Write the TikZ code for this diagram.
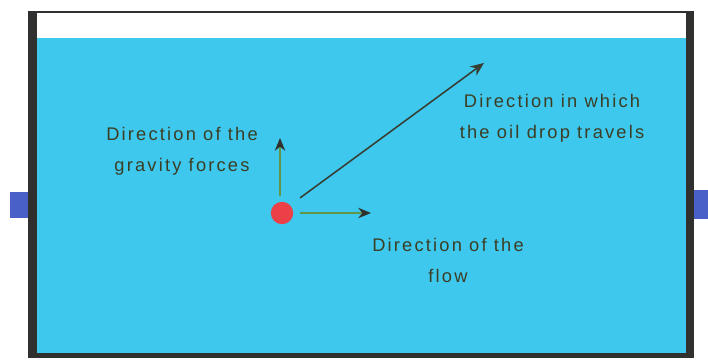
\documentclass[tikz,border=0pt]{standalone}
\usepackage{fontspec}
\setmainfont{Liberation Sans}
\newfontfamily\lblfont[LetterSpace=12]{Liberation Sans}
\usetikzlibrary{positioning,arrows.meta}
\definecolor{water}{RGB}{62,200,238}
\definecolor{wall}{RGB}{48,48,46}
\definecolor{port}{RGB}{72,96,200}
\definecolor{drop}{RGB}{236,64,72}
\definecolor{shaft}{RGB}{96,150,70}
\definecolor{txt}{RGB}{60,62,36}
\tikzset{
  lbl/.style={font=\lblfont\fontsize{13}{22}\selectfont,text=txt,align=center,inner sep=0pt},
  ar/.style={-{Stealth[length=3.2mm,width=2.6mm,color=wall]},line width=1.1pt,shaft},
  ard/.style={-{Stealth[length=3.4mm,width=2.8mm]},line width=1.1pt,wall!85!shaft},
  dropdot/.style={circle,fill=drop,minimum size=5.6mm,inner sep=0pt},
}

\begin{document}
\begin{tikzpicture}[x=0.025cm,y=-0.025cm]
\useasboundingbox (0,0) rectangle (708,360);

% tank
\fill[white] (28,11) rectangle (694,358);
\fill[water] (36,38) rectangle (688,353);
\fill[wall] (28,11) rectangle (694,13);
\fill[wall] (28,11) rectangle (37,358);
\fill[wall] (686,11) rectangle (694,358);
\fill[wall] (28,353) rectangle (694,358);

% inlet and outlet
\fill[port] (10,192) rectangle (28,218);
\fill[port] (694,190) rectangle (708,219);

% oil drop and its directions
\node[dropdot] (drop) at (282,213) {};
\coordinate (up) at (280,138);
\coordinate (right) at (371,213);
\coordinate (travel) at (484,63);

\draw[ar] (drop.north) ++(-2,-6) -- (up);
\draw[ar] (drop.east) ++(7,0) -- (right);
\draw[ard] (drop.north east) ++(10,-7) -- (travel);

\node[lbl] (gravity) at (182,151) {Direction of the\\gravity forces};
\node[lbl] (path) at (552,118) {Direction in which\\the oil drop travels};
\node[lbl] (flow) at (448,260) {Direction of the\\flow};

\end{tikzpicture}
\end{document}
